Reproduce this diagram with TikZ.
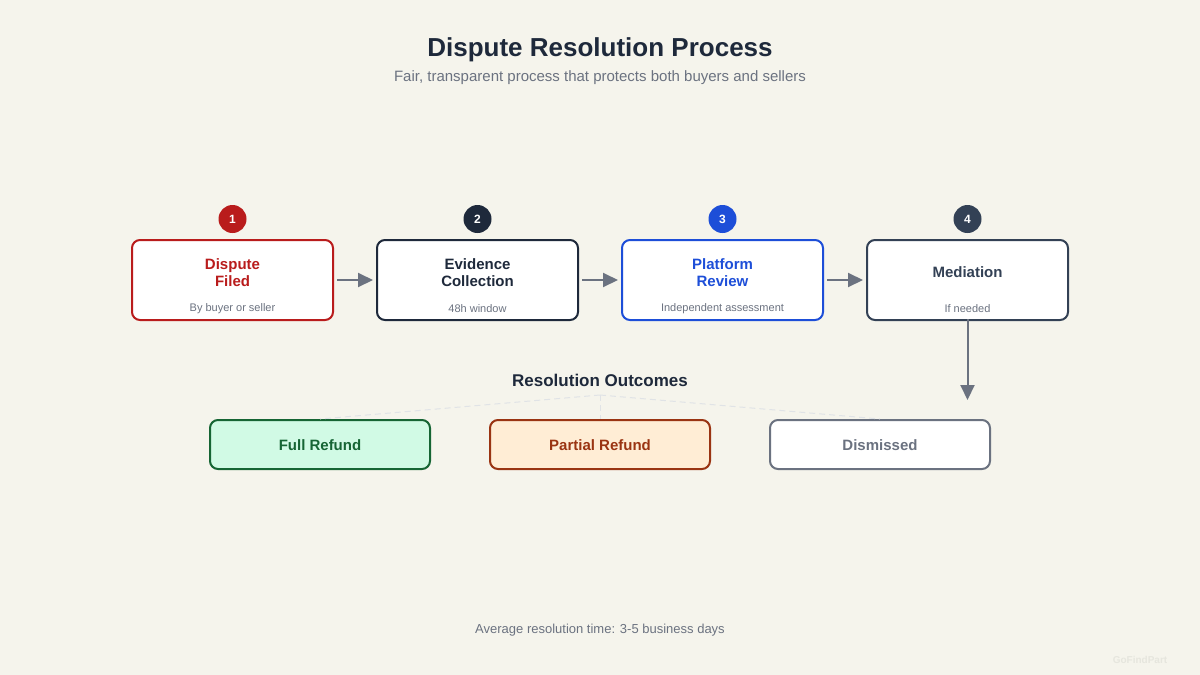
\documentclass[tikz,border=0pt]{standalone}
\usepackage{fontspec}
\setmainfont{Liberation Sans}
\usetikzlibrary{arrows.meta}
\definecolor{bg}{HTML}{F5F4EC}
\definecolor{ink}{HTML}{1E293B}
\definecolor{muted}{HTML}{6B7280}
\definecolor{redc}{HTML}{B91C1C}
\definecolor{bluec}{HTML}{1D4ED8}
\definecolor{slatec}{HTML}{334155}
\definecolor{greenc}{HTML}{166534}
\definecolor{greenf}{HTML}{D1FAE5}
\definecolor{orangec}{HTML}{9A3412}
\definecolor{orangef}{HTML}{FFEDD5}
\definecolor{dashc}{HTML}{E0E3E6}
\definecolor{wm}{HTML}{E6E6DE}
\tikzset{
  stepbox/.style={draw=#1, line width=2pt, rounded corners=8pt, fill=white, minimum width=201pt, minimum height=80pt, inner sep=0pt},
  badge/.style={circle, fill=#1, minimum size=28pt, inner sep=0pt, text=white, font=\fontsize{12}{14}\selectfont\bfseries},
  steptitle/.style={text=#1, font=\fontsize{15}{18}\selectfont\bfseries, align=center},
  stepsub/.style={text=muted, font=\fontsize{11}{13}\selectfont},
  flow/.style={draw=muted, line width=2pt, -{Triangle[length=15pt,width=14pt]}},
  outbox/.style n args={2}{draw=#1, fill=#2, line width=2pt, rounded corners=8pt, minimum width=220pt, minimum height=49pt, inner sep=0pt},
  outtext/.style={text=#1, font=\fontsize{15}{18}\selectfont\bfseries},
  guide/.style={draw=dashc, line width=1pt, dash pattern=on 6pt off 4pt}
}
\begin{document}
\begin{tikzpicture}[x=1pt,y=-1pt]
\fill[bg] (0,0) rectangle (1200,675);
\useasboundingbox (0,0) rectangle (1200,675);

\node[text=ink, font=\fontsize{26}{30}\selectfont\bfseries] (title) at (600,50) {Dispute Resolution Process};
\node[text=muted, font=\fontsize{15}{18}\selectfont] (subtitle) at (600,77.5) {Fair, transparent process that protects both buyers and sellers};

% step boxes
\node[stepbox=redc] (s1) at (232.5,280) {};
\node[stepbox=ink] (s2) at (477.5,280) {};
\node[stepbox=bluec] (s3) at (722.5,280) {};
\node[stepbox=slatec] (s4) at (967.5,280) {};

\node[badge=redc] (b1) at (232.5,219) {1};
\node[badge=ink] (b2) at (477.5,219) {2};
\node[badge=bluec] (b3) at (722.5,219) {3};
\node[badge=slatec] (b4) at (967.5,219) {4};

\node[steptitle=redc] (t1) at (232.5,272.5) {Dispute\\[-1pt]Filed};
\node[steptitle=ink] (t2) at (477.5,272.5) {Evidence\\[-1pt]Collection};
\node[steptitle=bluec] (t3) at (722.5,272.5) {Platform\\[-1pt]Review};
\node[steptitle=slatec] (t4) at (967.5,272.5) {Mediation};

\node[stepsub] (u1) at (232.5,308.5) {By buyer or seller};
\node[stepsub] (u2) at (477.5,308.5) {48h window};
\node[stepsub] (u3) at (722.5,308.5) {Independent assessment};
\node[stepsub] (u4) at (967.5,308.5) {If needed};

\draw[flow] ([xshift=3pt]s1.east) -- ([xshift=-3pt]s2.west);
\draw[flow] ([xshift=3pt]s2.east) -- ([xshift=-3pt]s3.west);
\draw[flow] ([xshift=3pt]s3.east) -- ([xshift=-3pt]s4.west);
\coordinate (down) at (967.5,400);
\draw[flow] ([yshift=2pt]s4.south) -- (down);

% outcomes
\node[text=ink, font=\fontsize{17}{20}\selectfont\bfseries] (ro) at (600,380.5) {Resolution Outcomes};
\coordinate (hub) at (600,395);
\node[outbox={greenc}{greenf}] (o1) at (320,444.5) {};
\node[outbox={orangec}{orangef}] (o2) at (600,444.5) {};
\node[outbox={muted}{white}] (o3) at (880,444.5) {};
\node[outtext=greenc] (l1) at (320,445.5) {Full Refund};
\node[outtext=orangec] (l2) at (600,445.5) {Partial Refund};
\node[outtext=muted] (l3) at (880,445.5) {Dismissed};
\draw[guide] (hub) -- (o1.north);
\draw[guide] (hub) -- (o2.north);
\draw[guide] (hub) -- (o3.north);

\node[text=muted, font=\fontsize{13}{16}\selectfont] (foot) at (600,630.5) {Average resolution time: 3-5 business days};
\node[text=wm, font=\fontsize{10}{12}\selectfont\bfseries] (wmk) at (1140,660) {GoFindPart};
\end{tikzpicture}
\end{document}
